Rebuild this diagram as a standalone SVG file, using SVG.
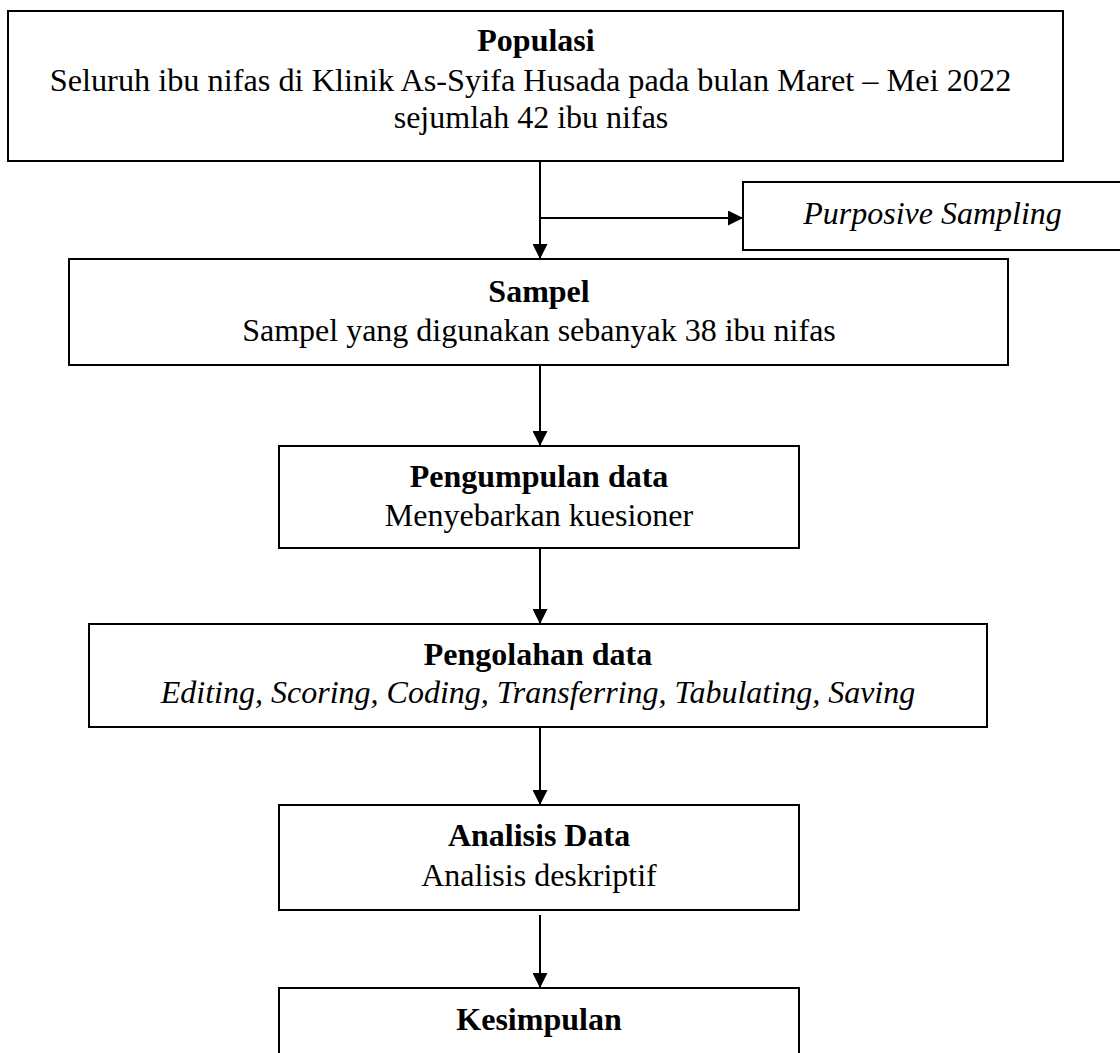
<svg xmlns="http://www.w3.org/2000/svg" width="1120" height="1053" viewBox="0 0 1120 1053">
<style>
.box{fill:#fff;stroke:#000;stroke-width:2}
.t{font-family:"Liberation Serif","Times New Roman",serif;font-size:32px;fill:#000;text-anchor:middle}
.b{font-weight:bold}
.i{font-style:italic}
.c{stroke:#000;stroke-width:2;fill:none}
</style>
<defs>
<marker id="arr" viewBox="0 0 15 15" refX="15" refY="7.5" markerWidth="15" markerHeight="15" markerUnits="userSpaceOnUse" orient="auto">
<path d="M0,0 L15,7.5 L0,15 z" fill="#000"/>
</marker>
</defs>
<rect width="1120" height="1053" fill="#fff"/>
<g id="connectors">
<line class="c" x1="540" y1="161" x2="540" y2="259" marker-end="url(#arr)"/>
<line class="c" x1="540" y1="218" x2="743" y2="218" marker-end="url(#arr)"/>
<line class="c" x1="540" y1="365" x2="540" y2="446" marker-end="url(#arr)"/>
<line class="c" x1="540" y1="548" x2="540" y2="624" marker-end="url(#arr)"/>
<line class="c" x1="540" y1="727" x2="540" y2="805" marker-end="url(#arr)"/>
<line class="c" x1="540" y1="915" x2="540" y2="988" marker-end="url(#arr)"/>
</g>
<g id="populasi">
<rect class="box" x="8" y="11" width="1055" height="150"/>
<text class="t b" x="536" y="51">Populasi</text>
<text class="t" x="530.5" y="91" style="font-size:32.3px">Seluruh ibu nifas di Klinik As-Syifa Husada pada bulan Maret – Mei 2022</text>
<text class="t" x="531" y="128">sejumlah 42 ibu nifas</text>
</g>
<g id="purposive">
<rect class="box" x="743" y="182" width="390" height="68"/>
<text class="t i" x="932.5" y="224">Purposive Sampling</text>
</g>
<g id="sampel">
<rect class="box" x="69" y="259" width="939" height="106"/>
<text class="t b" x="539" y="302">Sampel</text>
<text class="t" x="539" y="341">Sampel yang digunakan sebanyak 38 ibu nifas</text>
</g>
<g id="pengumpulan">
<rect class="box" x="279" y="446" width="520" height="102"/>
<text class="t b" x="539" y="487">Pengumpulan data</text>
<text class="t" x="539" y="526">Menyebarkan kuesioner</text>
</g>
<g id="pengolahan">
<rect class="box" x="89" y="624" width="898" height="103"/>
<text class="t b" x="538" y="665">Pengolahan data</text>
<text class="t i" x="538" y="703">Editing, Scoring, Coding, Transferring, Tabulating, Saving</text>
</g>
<g id="analisis">
<rect class="box" x="279" y="805" width="520" height="105"/>
<text class="t b" x="539" y="846">Analisis Data</text>
<text class="t" x="539" y="886">Analisis deskriptif</text>
</g>
<g id="kesimpulan">
<rect class="box" x="279" y="988" width="520" height="90"/>
<text class="t b" x="539" y="1030">Kesimpulan</text>
</g>
</svg>
